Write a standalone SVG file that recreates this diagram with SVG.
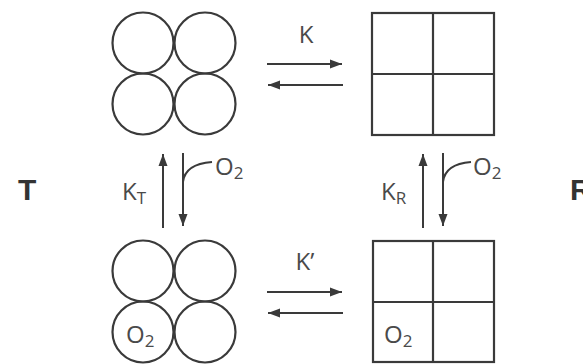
<svg xmlns="http://www.w3.org/2000/svg" width="583" height="364" viewBox="0 0 583 364">
<style>
.shape{fill:none;stroke:#3a3a3a;stroke-width:2.2}
.ln{fill:none;stroke:#3a3a3a;stroke-width:2}
.lbl{font-family:"Open Sans","Liberation Sans",sans-serif;font-size:24px;fill:#4a4a4a}
.sub{font-size:17px}
.big{font-family:"Liberation Sans","Open Sans",sans-serif;font-size:30px;font-weight:bold;fill:#333}
</style>
<defs>
<marker id="ah" markerUnits="userSpaceOnUse" markerWidth="12" markerHeight="10" refX="12" refY="5" orient="auto">
<path d="M0,0.5 L12,5 L0,9.5 z" fill="#3a3a3a"/>
</marker>
</defs>
<rect width="583" height="364" fill="#fff"/>
<g id="T-deoxy">
<circle class="shape" cx="143" cy="43" r="30.5"/>
<circle class="shape" cx="205" cy="43" r="30.5"/>
<circle class="shape" cx="143" cy="104" r="30.5"/>
<circle class="shape" cx="205" cy="104" r="30.5"/>
</g>
<g id="R-deoxy">
<rect class="shape" x="372" y="13" width="122" height="122"/>
<line class="shape" x1="433" y1="13" x2="433" y2="135"/>
<line class="shape" x1="372" y1="74" x2="494" y2="74"/>
</g>
<g id="T-oxy">
<circle class="shape" cx="143" cy="271" r="30.5"/>
<circle class="shape" cx="205" cy="271" r="30.5"/>
<circle class="shape" cx="143" cy="332" r="30.5"/>
<circle class="shape" cx="205" cy="332" r="30.5"/>
<text class="lbl" x="126" y="343">O<tspan class="sub" dy="4">2</tspan></text>
</g>
<g id="R-oxy">
<rect class="shape" x="373" y="241" width="121" height="121"/>
<line class="shape" x1="433" y1="241" x2="433" y2="362"/>
<line class="shape" x1="373" y1="302" x2="494" y2="302"/>
<text class="lbl" x="384" y="343">O<tspan class="sub" dy="4">2</tspan></text>
</g>
<g id="labels">
<text class="big" x="18" y="200">T</text>
<text class="big" x="570" y="200">R</text>
</g>
<g id="connectors">
<line class="ln" x1="267" y1="64" x2="342" y2="64" marker-end="url(#ah)"/>
<line class="ln" x1="343" y1="85" x2="268" y2="85" marker-end="url(#ah)"/>
<text class="lbl" x="306" y="43" text-anchor="middle">K</text>
<line class="ln" x1="267" y1="292" x2="342" y2="292" marker-end="url(#ah)"/>
<line class="ln" x1="343" y1="313" x2="268" y2="313" marker-end="url(#ah)"/>
<text class="lbl" x="305" y="270" text-anchor="middle">K’</text>
<line class="ln" x1="163" y1="228" x2="163" y2="154" marker-end="url(#ah)"/>
<line class="ln" x1="183" y1="153" x2="183" y2="226" marker-end="url(#ah)"/>
<path class="ln" d="M183,182 Q185,164 212,162"/>
<text class="lbl" x="215" y="175">O<tspan class="sub" dy="4">2</tspan></text>
<text class="lbl" x="122" y="200">K<tspan class="sub" dy="4">T</tspan></text>
<line class="ln" x1="423" y1="228" x2="423" y2="154" marker-end="url(#ah)"/>
<line class="ln" x1="443" y1="153" x2="443" y2="226" marker-end="url(#ah)"/>
<path class="ln" d="M443,182 Q445,164 471,162"/>
<text class="lbl" x="473" y="175">O<tspan class="sub" dy="4">2</tspan></text>
<text class="lbl" x="381" y="200">K<tspan class="sub" dy="4">R</tspan></text>
</g>
</svg>
